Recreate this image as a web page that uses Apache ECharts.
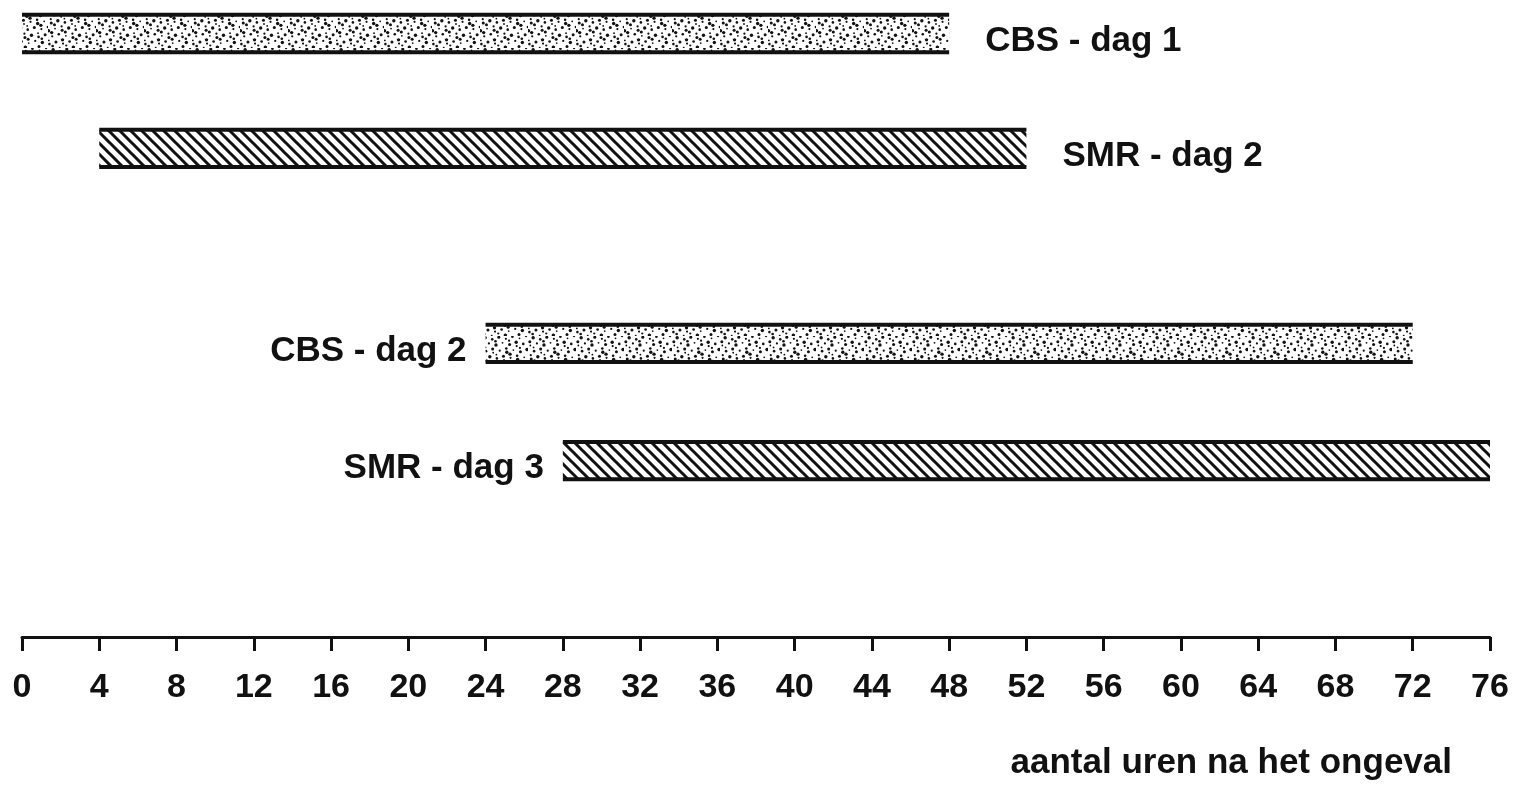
<!DOCTYPE html>
<html>
<head>
<meta charset="utf-8">
<script src="https://cdn.jsdelivr.net/npm/echarts@6/dist/echarts.min.js"></script>
<style>
html,body{margin:0;padding:0;background:#fff;}
#c{width:1519px;height:786px;}
</style>
</head>
<body>
<div id="c"></div>
<script>
// ---- data ----
const barNames  = ['CBS - dag 1', 'SMR - dag 2', 'CBS - dag 2', 'SMR - dag 3'];
const barStart  = [0, 4, 24, 28];      // hours after the accident
const barEnd    = [48, 52, 72, 76];
const barLane   = [0.5, 3.45, 8.46, 11.47]; // vertical lane (hidden axis units)
const barKind   = ['dots', 'hatch', 'dots', 'hatch'];
const labelSide = ['right', 'right', 'left', 'left'];
const xTicks    = [0,4,8,12,16,20,24,28,32,36,40,44,48,52,56,60,64,68,72,76];
const axisTitle = 'aantal uren na het ongeval';

// ---- patterns (styles) ----
function hatchPattern(){
  const P = 11;
  const c = document.createElement('canvas');
  c.width = P; c.height = P;
  const g = c.getContext('2d');
  g.fillStyle = '#fff'; g.fillRect(0,0,P,P);
  g.strokeStyle = '#111'; g.lineWidth = 3.0; g.lineCap = 'square';
  for (let k = -1; k <= 1; k++){
    g.beginPath();
    g.moveTo(k*P - 3, -3);
    g.lineTo(k*P + P + 3, P + 3);
    g.stroke();
  }
  return c;
}
function dotPattern(){
  const S = 48;
  const c = document.createElement('canvas');
  c.width = S; c.height = S;
  const g = c.getContext('2d');
  g.fillStyle = '#fff'; g.fillRect(0,0,S,S);
  g.fillStyle = '#111';
  const a1 = 0.7548776662, a2 = 0.5698402910;
  for (let i = 0; i < 80; i++){
    const x = ((0.5 + a1*i) % 1) * S;
    const y = ((0.5 + a2*i) % 1) * S;
    const r = 0.9 + ((i*7) % 5) * 0.2;
    g.beginPath(); g.arc(x, y, r, 0, Math.PI*2); g.fill();
  }
  return c;
}
const patterns = { dots: dotPattern(), hatch: hatchPattern() };

const seriesData = barNames.map((n, i) => [barStart[i], barEnd[i], barLane[i], i]);
const FONT = 'Liberation Sans, Arial, sans-serif';

const chart = echarts.init(document.getElementById('c'));
chart.setOption({
  backgroundColor: '#fff',
  animation: false,
  title: {
    text: axisTitle,
    right: 62, bottom: 0,
    textStyle: { fontFamily: FONT, fontSize: 35, fontWeight: 'bold', color: '#111' }
  },
  grid: { left: 22, right: 29, top: 14, bottom: 149, containLabel: false },
  xAxis: {
    type: 'value', min: 0, max: 76, interval: 4, position: 'bottom',
    axisLine: { show: true, onZero: false, lineStyle: { color: '#111', width: 3 } },
    axisTick: { show: true, length: 14, lineStyle: { color: '#111', width: 3 } },
    splitLine: { show: false },
    axisLabel: {
      margin: 34, fontSize: 34, fontWeight: 'bold', color: '#111',
      fontFamily: FONT,
      formatter: v => xTicks.indexOf(v) >= 0 ? String(v) : ''
    }
  },
  yAxis: { type: 'value', inverse: true, min: 0, max: 16, show: false },
  series: [{
    type: 'custom',
    data: seriesData,
    encode: { x: [0, 1], y: 2 },
    renderItem: function(params, api){
      const i = api.value(3);
      const s = api.coord([api.value(0), api.value(2)]);
      const e = api.coord([api.value(1), api.value(2)]);
      const h = api.size([0, 0.96])[1];
      const top = s[1] - h/2, bot = s[1] + h/2;
      const side = labelSide[i];
      return {
        type: 'group',
        children: [
          { type: 'rect', shape: { x: s[0], y: top, width: e[0]-s[0], height: h },
            style: { fill: { image: patterns[barKind[i]], repeat: 'repeat' }, stroke: null } },
          { type: 'line', shape: { x1: s[0], y1: top, x2: e[0], y2: top }, style: { stroke: '#111', lineWidth: 4 } },
          { type: 'line', shape: { x1: s[0], y1: bot, x2: e[0], y2: bot }, style: { stroke: '#111', lineWidth: 4 } },
          { type: 'text',
            style: {
              text: barNames[i],
              x: side === 'right' ? e[0] + 36 : s[0] - 19,
              y: bot + 7,
              align: side === 'right' ? 'left' : 'right',
              verticalAlign: 'bottom',
              fontFamily: FONT,
              fontSize: 35, fontWeight: 'bold', fill: '#111'
            } }
        ]
      };
    }
  }]
});
</script>
</body>
</html>
